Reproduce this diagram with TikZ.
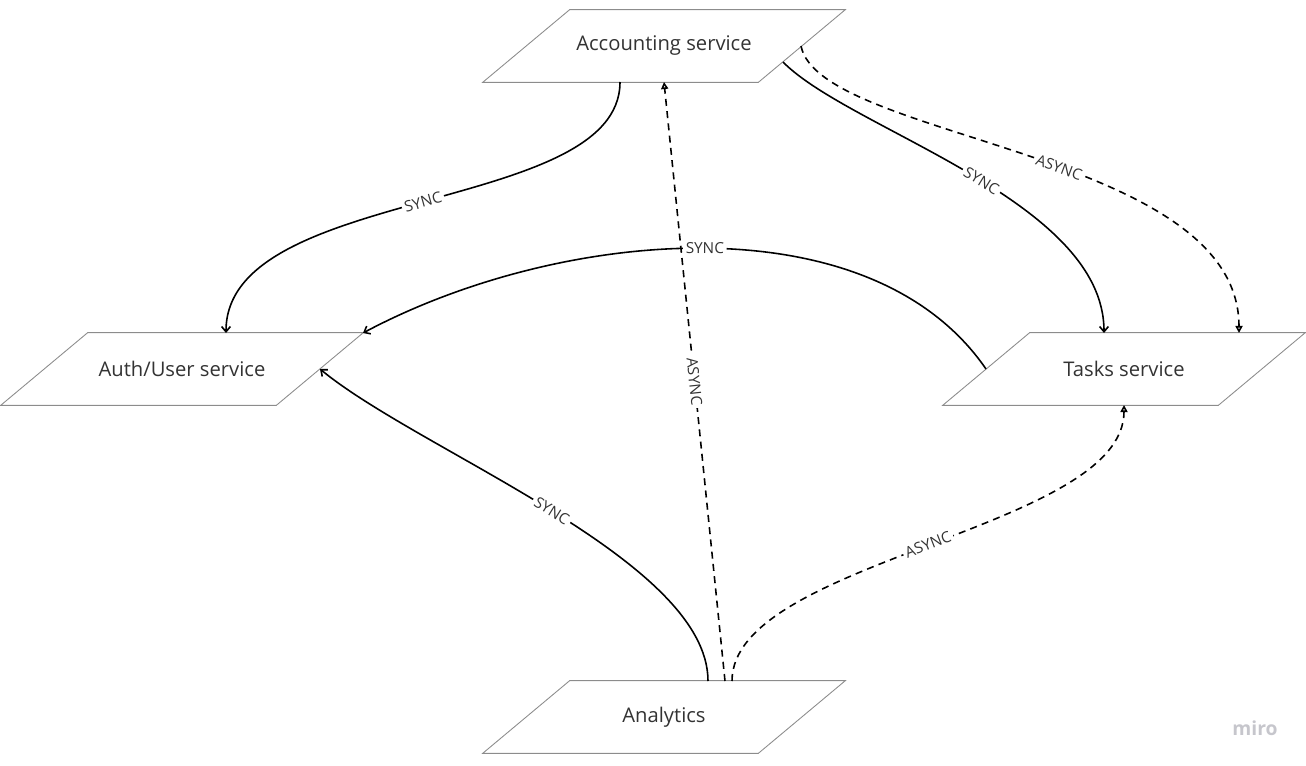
\documentclass[tikz,border=0pt]{standalone}
\usepackage{fontspec}
\setmainfont{Open Sans}
\usetikzlibrary{arrows.meta}

\definecolor{txtgray}{HTML}{333333}
\definecolor{boxgray}{HTML}{8C8C8C}
\definecolor{mirogray}{HTML}{C6C6CC}

\tikzset{
  service/.style={minimum width=5.5cm,minimum height=1.44cm,inner sep=0pt,
    font=\fontsize{11.5}{13}\selectfont,text=txtgray},
  slantbox/.style={draw=boxgray,line width=0.5pt},
  sync/.style={line width=0.9pt,-{Straight Barb[length=3pt,width=5pt]}},
  async/.style={line width=0.9pt,dash pattern=on 4pt off 3pt,-{Triangle[open,length=4pt,width=4pt]}},
  lbl/.style={fill=white,inner sep=1.5pt,sloped,font=\fontsize{8.7}{10}\selectfont,text=txtgray}
}

\begin{document}
\begin{tikzpicture}[x=0.02cm,y=-0.02cm]
    \useasboundingbox (0,0) rectangle (1306,765);

    \node[service] (acc)   at (664,46)  {Accounting service};
    \node[service] (auth)  at (182,369) {Auth/User service};
    \node[service] (tasks) at (1124,369) {Tasks service};
    \node[service] (ana)   at (664,717) {Analytics};

    % slanted outlines
    \foreach \n in {acc,auth,tasks,ana}
      \draw[slantbox] ([xshift=0.87cm]\n.north west) -- ([xshift=0.87cm]\n.north east)
        -- ([xshift=-0.87cm]\n.south east) -- ([xshift=-0.87cm]\n.south west) -- cycle;

    \draw[sync] ([shift={(-44,36)}]acc.center) .. controls +(0,133) and +(0,-148) .. ([shift={(44,-36)}]auth.center) node[lbl,pos=0.5] {SYNC};
    \draw[sync] ([shift={(-138,0)}]tasks.center) .. controls +(-116,-169) and +(197,-105) .. ([shift={(181,-36)}]auth.center) node[lbl,pos=0.5] {SYNC};
    \draw[sync] ([shift={(119,16)}]acc.center) .. controls +(67,68) and +(0,-133) .. ([shift={(-20,-36)}]tasks.center) node[lbl,pos=0.53] {SYNC};
    \draw[sync] ([shift={(44,-36)}]ana.center) .. controls +(0,-121) and +(101,83) .. ([shift={(138,0)}]auth.center) node[lbl,pos=0.5] {SYNC};

    \draw[async] ([shift={(137,0)}]acc.center) .. controls +(19,94) and +(0,-183) .. ([shift={(115,-36)}]tasks.center) node[lbl,pos=0.55] {ASYNC};
    \draw[async] ([shift={(61,-36)}]ana.center) -- ([shift={(0,36)}]acc.center) node[lbl,pos=0.5] {ASYNC};
    \draw[async] ([shift={(68,-36)}]ana.center) .. controls +(0,-121) and +(0,125) .. ([shift={(0,36)}]tasks.center) node[lbl,pos=0.5] {ASYNC};

    \node[font=\bfseries\fontsize{11}{12}\selectfont,text=mirogray] (miro) at (1255,728) {miro};
\end{tikzpicture}
\end{document}
